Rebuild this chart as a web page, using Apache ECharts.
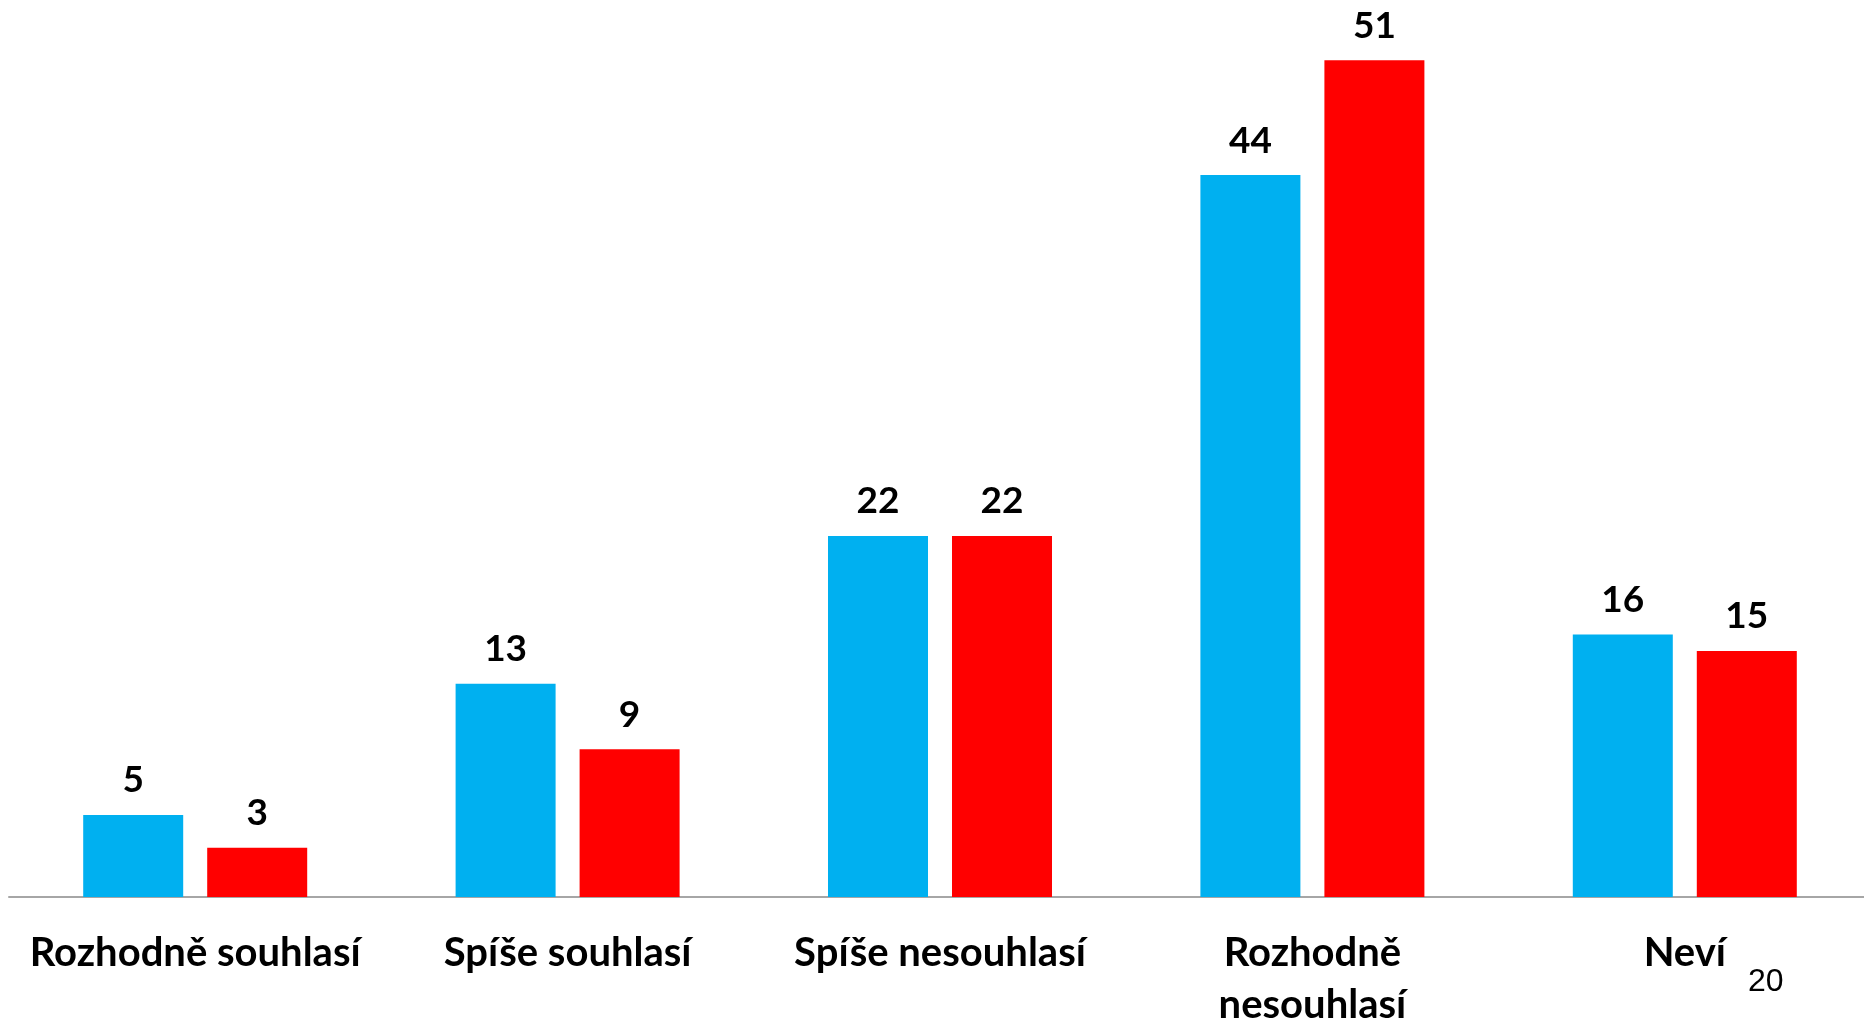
<!DOCTYPE html>
<html>
<head>
<meta charset="utf-8">
<script src="https://cdn.jsdelivr.net/npm/echarts@6/dist/echarts.min.js"></script>
<style>
html,body{margin:0;padding:0;background:#fff;}
#chart{width:1864px;height:1021px;}
</style>
</head>
<body>
<div id="chart"></div>
<script>
const categories = ["Rozhodně souhlasí", "Spíše souhlasí", "Spíše nesouhlasí", "Rozhodně\nnesouhlasí", "Neví"];
const seriesBlue = [5, 13, 22, 44, 16];
const seriesRed = [3, 9, 22, 51, 15];
const pageNumber = "20";

const chart = echarts.init(document.getElementById('chart'), null, {renderer: 'canvas'});
const labelStyle = {
  show: true,
  position: 'top',
  distance: 16,
  color: '#000',
  fontFamily: 'Lato',
  fontWeight: 'bold',
  fontSize: 37
};
chart.setOption({
  animation: false,
  backgroundColor: '#fff',
  grid: {left: 9, right: -7, top: 11, bottom: 124, containLabel: false, outerBoundsMode: 'none'},
  xAxis: {
    type: 'category',
    data: categories,
    axisLine: {show: true, lineStyle: {color: '#A6A6A6', width: 2}},
    axisTick: {show: false},
    axisLabel: {
      interval: 0,
      margin: 30,
      color: '#000',
      fontFamily: 'Lato',
      fontWeight: 'bold',
      fontSize: 40,
      lineHeight: 52
    }
  },
  yAxis: {
    type: 'value',
    min: 0,
    max: 54,
    show: false,
    splitLine: {show: false}
  },
  series: [
    {type: 'bar', data: seriesBlue, barWidth: 100, barGap: '24%', itemStyle: {color: '#00B0F0'}, label: labelStyle},
    {type: 'bar', data: seriesRed, barWidth: 100, barGap: '24%', itemStyle: {color: '#FF0000'}, label: labelStyle}
  ],
  graphic: [{
    type: 'text',
    left: 1748,
    top: 966,
    style: {text: pageNumber, fill: '#000', font: '32px "Liberation Sans", Arial, sans-serif'}
  }]
});
</script>
</body>
</html>
